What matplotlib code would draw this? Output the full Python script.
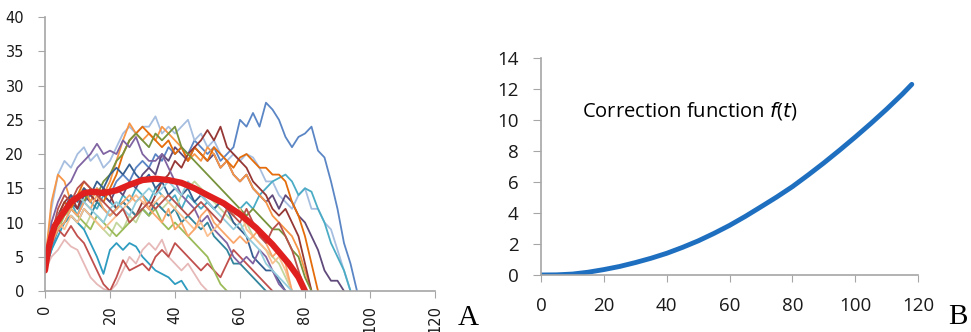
import numpy as np
import matplotlib
matplotlib.use("Agg")
import matplotlib.pyplot as plt

# Panel A: individual trajectories, sampled every 2 time units starting at 0.
step = 2
trajectories = [
    ("#5B86C5", [3, 6, 9, 10, 12, 11, 13, 14, 13, 15, 14, 16, 17, 16, 18, 19, 18, 20, 19, 21, 20, 21, 20, 22, 21,
                 20, 21, 19, 20, 21, 25, 24, 26, 24, 27.5, 26.5, 25, 22.5, 21, 22.5, 23, 24, 20.5, 19.5, 16, 12, 7, 4, 0]),
    ("#A6BEE0", [4, 12, 17, 19, 18, 20, 21, 19, 20, 18, 19, 21, 23, 24, 23, 24, 24, 25.5, 23, 24, 23, 24, 25, 22, 23,
                 21, 22, 20, 19, 20, 19, 20, 19.5, 18, 16, 16, 14, 13, 12, 14, 15, 12, 12, 10, 9, 6, 3, 0]),
    ("#4BACC6", [3, 8, 11, 12, 13, 11, 14, 13, 12, 14, 13, 12, 14, 13, 15, 14, 13, 15, 14, 13, 14, 12, 14, 13, 12,
                 13, 12, 13, 12, 11, 12, 13, 12, 14, 15, 16, 16.5, 17, 16, 14, 15, 14.5, 12, 10, 7, 5, 3, 0]),
    ("#604A7B", [3, 7, 10, 12, 13, 12, 14, 13, 15, 14, 13, 15, 14, 16, 15, 17, 18, 17, 20, 19, 21, 20, 19, 21, 20,
                 19, 20, 18, 19, 17, 16, 17, 15, 14, 13, 14, 12, 14, 13, 11, 10, 8, 6, 3, 1.5, 1.5, 0]),
    ("#F79646", [4, 13, 17, 16, 13, 14, 15, 13, 15, 14, 16, 19, 22, 24.5, 23, 22, 23, 22, 24, 23, 22, 21, 19, 20, 19,
                 21, 20, 18, 19, 17, 16, 17, 15, 14, 13, 11, 10, 9, 8, 6, 3, 0]),
    ("#E46C0A", [3, 9, 11, 13, 12, 14, 16, 15, 14, 13, 15, 17, 20, 22, 23, 24, 23, 22, 21, 22, 20, 21, 19, 21, 20,
                 19, 21, 20, 19, 18, 19.5, 20, 19, 18, 18, 17, 17, 16, 13, 11, 8, 4, 0]),
    ("#953735", [3, 8, 11, 13, 14, 12, 15, 14, 13, 15, 14, 12, 13, 12, 11, 13, 12, 14, 16, 17, 19, 18, 20, 21, 22,
                 23.5, 22, 24, 21, 20, 19, 18, 16, 15, 14, 12, 11, 12, 10, 8, 4, 0]),
    ("#77933C", [3, 8, 11, 12, 13, 14, 13, 15, 14, 16, 17, 19, 20, 22, 23, 22, 21, 23, 22, 23, 24, 21, 20, 19, 18,
                 17, 16, 15, 14, 13, 12, 11, 12, 11, 10, 9, 9, 8, 6, 5, 2, 0]),
    ("#C3D69B", [3, 7, 9, 10, 11, 10, 9, 11, 10, 9, 8, 10, 9, 11, 10, 12, 11, 13, 12, 13, 12, 14, 15, 16, 15,
                 14, 13, 12, 11, 10, 9, 10, 8, 7, 6, 5, 4, 2, 0]),
    ("#366092", [3, 8, 11, 12, 14, 13, 15, 14, 16, 15, 17, 18, 17, 18.5, 17, 16, 17, 15, 16, 14, 15, 14, 15, 13, 14,
                 13, 12, 13, 12, 10, 9, 8, 5, 4, 3, 3, 1.5, 0]),
    ("#31859C", [3, 7, 9, 10, 11, 10, 12, 11, 13, 12, 11, 12, 13, 12, 11, 12, 11, 13, 12, 11, 12, 10, 11, 10, 9,
                 10, 8, 7, 6, 4, 4, 3, 2, 1, 0]),
    ("#2E9CC0", [3, 6, 8, 10, 11, 10, 9, 7, 5, 2.5, 6, 7, 6, 7, 6.5, 5, 4, 3, 2.5, 2, 1, 1.5, 0]),
    ("#E6B9B8", [3, 5, 6, 7.5, 6.5, 6, 4, 2, 1, 0.3, 0, 1, 3, 5, 4, 6, 7, 6, 7.5, 5, 4, 3, 4, 2.5, 1, 0]),
    ("#C0504D", [3, 7, 9, 8, 9.5, 8, 7, 5, 3, 1, 0, 2, 4.5, 3, 3.5, 4, 3, 5, 6, 5, 7, 6, 5, 4, 3,
                 4, 3, 2, 4, 6, 5, 4, 3, 2, 1, 0]),
    ("#9BBB59", [3, 7, 9, 11, 12, 11, 10, 9, 11, 10, 9, 8, 9, 10, 11, 12, 11, 12, 10, 9, 10, 9, 8, 7, 6,
                 5, 3, 1, 0]),
    ("#8064A2", [3, 10, 13, 15, 16, 18, 19, 20, 21.5, 20, 20.5, 20, 22, 21, 22.5, 20, 19, 19, 20, 18, 16, 14, 13, 12, 10,
                 11, 9, 8, 7, 5, 4, 5, 4, 6, 5, 3, 1, 0]),
    ("#FAC090", [3, 8, 10, 9, 11, 10, 12, 11, 10, 9, 10, 11, 12, 13, 14, 13, 12, 13, 14, 13, 12, 11, 10, 9, 10,
                 8, 9, 10, 12, 11, 12, 9, 8, 7, 6, 4, 5, 3, 0]),
    ("#F9A66B", [3, 7, 9, 10, 12, 11, 13, 12, 14, 12, 11, 12, 13, 14, 13, 14, 12, 11, 10, 12, 9, 10, 8, 9, 11,
                 12, 10, 9, 8, 7, 8, 7, 8, 9, 7, 5, 6, 4, 0]),
    ("#93CDDD", [3, 9, 11, 12, 13, 14, 13, 12, 11, 10, 12, 13, 12, 11, 13, 14, 15, 14, 15, 16, 15, 14, 16, 15, 14,
                 13, 12, 11, 10, 9, 10, 8, 7, 6, 4, 3, 2, 1, 0]),
    ("#B8504B", [3, 8, 12, 14, 13, 15, 16, 15, 14, 13, 12, 11, 12, 10, 11, 12, 13, 12, 13, 14, 13, 12, 11, 12, 13,
                 12, 11, 10, 12, 11, 10, 12, 10, 8, 7, 9, 10, 8, 6, 3, 0]),
]

# Average curve (thick red)
mean_t = [0, 1, 2, 3, 5, 8, 12, 15, 18, 22, 26, 30, 34, 38, 42, 46, 50, 55, 60, 65, 70, 75, 78, 80]
mean_y = [3, 6, 8, 9.5, 11, 13, 14.3, 14.5, 14.3, 14.7, 15.5, 16.2, 16.4, 16.2, 15.8, 15.0, 14.0, 12.8, 11.2, 9.2,
          6.8, 4.0, 2.0, 0]

# Panel B: correction function
corr_t = [0, 5, 10, 15, 20, 25, 30, 35, 40, 45, 50, 55, 60, 65, 70, 75, 80, 85, 90, 95, 100, 105, 110, 115, 118]
corr_f = [0, 0.01, 0.06, 0.18, 0.35, 0.55, 0.8, 1.08, 1.4, 1.78, 2.2, 2.68, 3.2, 3.78, 4.4, 5.03, 5.7, 6.45, 7.23,
          8.05, 8.9, 9.78, 10.7, 11.67, 12.3]

fig = plt.figure(figsize=(9.71, 3.32), dpi=100)
spine_col = "#A6A6A6"
tick_col = "#1A1A1A"

# ---- Panel A ----
axA = fig.add_axes([0.0463, 0.1235, 0.4017, 0.825])
for col, vals in trajectories:
    t = np.arange(len(vals)) * step
    axA.plot(t, vals, color=col, lw=1.3, solid_joinstyle="round")
axA.plot(mean_t, mean_y, color="#E0201E", lw=4.5, solid_capstyle="round")
axA.set_xlim(0, 120)
axA.set_ylim(0, 40)
axA.set_xticks(range(0, 121, 20))
axA.set_yticks(range(0, 41, 5))
axA.tick_params(axis="x", labelrotation=90, labelsize=10.5, length=5, color=spine_col, labelcolor=tick_col,
                direction="out", pad=5)
axA.tick_params(axis="y", labelsize=10.5, length=5, color=spine_col, labelcolor=tick_col, direction="out", pad=10)
for s in ["top", "right"]:
    axA.spines[s].set_visible(False)
for s in ["left", "bottom"]:
    axA.spines[s].set_color(spine_col)
    axA.spines[s].set_linewidth(1.2)
fig.text(0.482, 0.02, "A", family="Liberation Serif", fontsize=21, ha="center", va="baseline")

# ---- Panel B ----
axB = fig.add_axes([0.5572, 0.1717, 0.3883, 0.6536])
axB.plot(corr_t, corr_f, color="#1F6FC0", lw=3.5, solid_capstyle="round")
axB.set_xlim(0, 120)
axB.set_ylim(0, 14)
axB.set_xticks(range(0, 121, 20))
axB.set_yticks(range(0, 15, 2))
axB.tick_params(axis="x", labelsize=13.5, length=5, color=spine_col, labelcolor=tick_col, direction="out", pad=11)
axB.tick_params(axis="y", labelsize=13.5, length=6, color=spine_col, labelcolor=tick_col, direction="out", pad=10)
for lab in axB.get_xticklabels() + axB.get_yticklabels():
    lab.set_family("Open Sans")
for s in ["top", "right"]:
    axB.spines[s].set_visible(False)
for s in ["left", "bottom"]:
    axB.spines[s].set_color(spine_col)
    axB.spines[s].set_linewidth(1.2)
axB.text(0.108, 0.755, r"Correction function $\mathit{f}$($\mathit{t}$)", transform=axB.transAxes,
         family="Open Sans", fontsize=14.5, ha="left", va="center")
fig.text(0.986, 0.024, "B", family="Liberation Serif", fontsize=21, ha="center", va="baseline")

fig.savefig("out.png", dpi=100)
